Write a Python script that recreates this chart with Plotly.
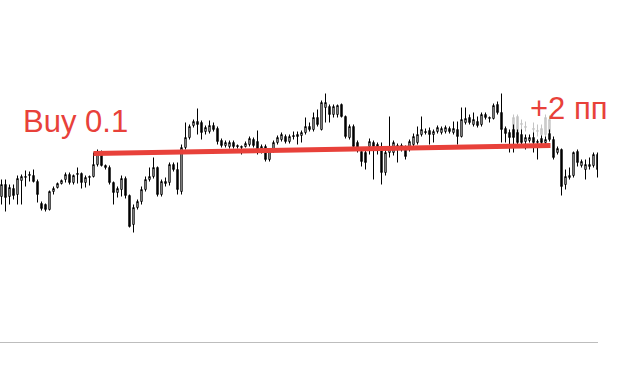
import plotly.graph_objects as go

# price levels (arbitrary points, up = higher price)
opens = [53, 65, 53, 61, 55, 69, 72, 74, 74, 68,
         46, 45, 40, 58, 62, 66, 70, 75, 67, 75,
         76, 67, 72, 73, 85, 97, 84, 82, 67, 57,
         60, 71, 54, 25, 42, 48, 60, 70, 73, 82,
         55, 68, 67, 85, 80, 58, 102, 112, 124, 128,
         127, 118, 118, 124, 121, 109, 104, 103, 107, 104,
         102, 103, 105, 110, 108, 98, 103, 90, 98, 107,
         110, 113, 108, 114, 115, 114, 117, 123, 120, 132,
         120, 142, 143, 135, 135, 145, 133, 112, 123, 107,
         98, 97, 103, 107, 105, 100, 77, 97, 97, 100,
         104, 102, 102, 105, 107, 115, 118, 119, 115, 118,
         117, 118, 121, 117, 120, 113, 127, 132, 125, 128,
         125, 135, 131, 131, 145, 137, 121, 117, 120, 117,
         115, 108, 109, 112, 107, 111, 107, 116, 110, 97,
         100, 65, 72, 74, 98, 84, 80, 83, 84, 95]
closes = [65, 52, 62, 54, 71, 73, 73, 75, 68, 55,
          41, 40, 58, 61, 66, 69, 75, 67, 74, 76,
          67, 72, 73, 85, 97, 84, 82, 67, 57, 61,
          71, 54, 23, 42, 48, 60, 70, 73, 82, 55,
          68, 66, 85, 80, 60, 102, 112, 123, 128, 125,
          117, 122, 124, 120, 108, 104, 107, 107, 103, 103,
          103, 106, 111, 104, 97, 103, 90, 98, 107, 112,
          115, 108, 113, 113, 113, 117, 123, 120, 132, 125,
          147, 147, 135, 143, 144, 133, 113, 123, 103, 100,
          88, 87, 108, 103, 101, 77, 97, 103, 107, 104,
          101, 93, 108, 113, 115, 120, 117, 115, 118, 122,
          121, 122, 118, 121, 113, 130, 131, 127, 130, 124,
          135, 132, 132, 144, 137, 120, 116, 112, 112, 107,
          107, 112, 112, 107, 108, 107, 110, 110, 92, 101,
          63, 73, 74, 97, 87, 88, 85, 85, 95, 80]
highs = [70, 70, 65, 65, 74, 75, 79, 78, 80, 70,
         48, 46, 59, 63, 67, 70, 77, 77, 75, 82,
         77, 74, 74, 97, 100, 99, 85, 84, 68, 63,
         74, 73, 55, 45, 50, 63, 73, 82, 92, 83,
         70, 72, 87, 87, 87, 105, 127, 125, 130, 141,
         129, 124, 129, 127, 123, 111, 109, 109, 109, 105,
         104, 108, 113, 112, 119, 105, 105, 100, 109, 114,
         117, 115, 115, 118, 118, 119, 132, 127, 137, 140,
         149, 156, 145, 145, 145, 146, 134, 125, 125, 109,
         100, 99, 111, 109, 107, 107, 100, 133, 109, 106,
         106, 104, 110, 116, 123, 133, 121, 122, 120, 124,
         123, 124, 123, 128, 128, 142, 142, 135, 137, 133,
         137, 137, 133, 146, 148, 156, 123, 120, 125, 120,
         120, 115, 115, 117, 110, 114, 113, 120, 113, 103,
         101, 80, 82, 98, 100, 90, 90, 92, 97, 97]
lows = [45, 38, 45, 50, 45, 45, 63, 68, 67, 47,
        39, 38, 39, 55, 61, 65, 67, 65, 65, 66,
        61, 62, 64, 72, 83, 83, 80, 65, 45, 52,
        53, 51, 22, 17, 40, 45, 58, 68, 71, 53,
        53, 63, 64, 78, 55, 55, 100, 110, 122, 115,
        110, 115, 116, 118, 105, 102, 102, 101, 101, 101,
        95, 102, 103, 102, 95, 96, 88, 88, 97, 105,
        108, 106, 106, 110, 105, 107, 115, 118, 118, 123,
        119, 127, 127, 132, 132, 132, 111, 110, 100, 97,
        83, 80, 95, 70, 95, 65, 74, 92, 94, 87,
        98, 90, 98, 103, 105, 113, 115, 105, 107, 116,
        115, 116, 116, 115, 105, 112, 125, 125, 123, 122,
        123, 130, 127, 130, 135, 107, 107, 97, 97, 105,
        102, 100, 107, 97, 90, 105, 104, 108, 90, 95,
        54, 60, 70, 72, 83, 82, 70, 80, 82, 72]
bars = list(range(len(opens)))

# faded (grey) candles
ghost_x = [128, 129, 130, 131, 133, 134, 135, 136, 137]
ghost_open = [115, 133, 125, 122, 120, 118, 115, 115, 117]
ghost_close = [132, 115, 126, 123, 121, 119, 121, 132, 130]
ghost_high = [135, 135, 130, 128, 127, 125, 125, 135, 134]
ghost_low = [113, 113, 117, 118, 116, 113, 113, 113, 115]

# trade line
trade_x = [23, 137.25]
trade_y = [96, 104]
labels = ["Buy 0.1", "+2 пп"]

RED = "#e8413a"

fig = go.Figure()
fig.add_trace(go.Candlestick(
    x=ghost_x, open=ghost_open, high=ghost_high, low=ghost_low, close=ghost_close,
    increasing=dict(line=dict(color="#c4c4c4", width=1), fillcolor="#d4d4d4"),
    decreasing=dict(line=dict(color="#c4c4c4", width=1), fillcolor="#c4c4c4"),
    hoverinfo="skip", showlegend=False))
fig.add_trace(go.Candlestick(
    x=bars, open=opens, high=highs, low=lows, close=closes,
    increasing=dict(line=dict(color="black", width=1), fillcolor="white"),
    decreasing=dict(line=dict(color="black", width=1), fillcolor="black"),
    showlegend=False))
fig.add_trace(go.Scatter(
    x=trade_x, y=trade_y, mode="lines",
    line=dict(color=RED, width=5), showlegend=False, hoverinfo="skip"))

fig.add_annotation(text=labels[0], xref="paper", yref="paper",
                   x=21 / 598, y=1 - 122 / 342, xanchor="left", yanchor="middle",
                   showarrow=False, font=dict(family="Liberation Sans, Arial", size=31, color=RED))
fig.add_annotation(text=labels[1], xref="paper", yref="paper",
                   x=528 / 598, y=1 - 109 / 342, xanchor="left", yanchor="middle",
                   showarrow=False, font=dict(family="Liberation Sans, Arial", size=31, color=RED))

fig.update_layout(
    width=625, height=385,
    margin=dict(l=0, r=27, t=0, b=43),
    paper_bgcolor="white", plot_bgcolor="white",
    boxgap=0.5,
    xaxis=dict(range=[-0.375, 149.125], showgrid=False, zeroline=False,
               showticklabels=False, ticks="", showline=True,
               linecolor="#bdbdbd", linewidth=1, rangeslider=dict(visible=False)),
    yaxis=dict(range=[-92.5, 249.5], showgrid=False, zeroline=False,
               showticklabels=False, ticks="", showline=False),
)

fig.write_html("out.html")
